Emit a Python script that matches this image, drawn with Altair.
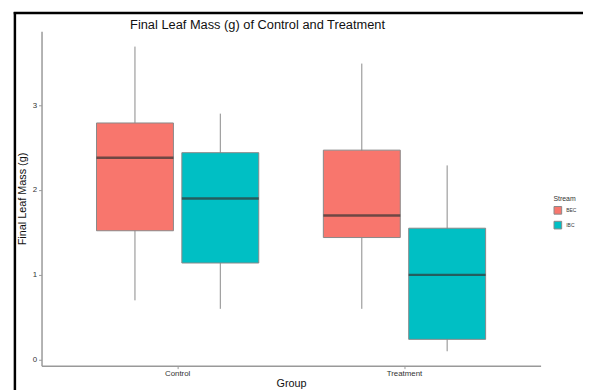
import altair as alt
import pandas as pd

groups = ["Control", "Control", "Treatment", "Treatment"]
streams = ["BEC", "IBC", "BEC", "IBC"]
lower = [0.70, 0.60, 0.60, 0.10]
q1 = [1.52, 1.14, 1.44, 0.24]
median = [2.38, 1.90, 1.70, 1.00]
q3 = [2.79, 2.44, 2.47, 1.55]
upper = [3.69, 2.90, 3.49, 2.29]

df = pd.DataFrame({"Group": groups, "Stream": streams, "lower": lower, "q1": q1,
                   "median": median, "q3": q3, "upper": upper})

xenc = alt.X("Group:N", title="Group",
             scale=alt.Scale(paddingInner=0, paddingOuter=0.1),
             axis=alt.Axis(labelAngle=0, labelFontSize=8, labelColor="#333",
                           titleFontSize=11, titleFontWeight="normal", titleColor="#111",
                           titlePadding=0, domainColor="#999", domainWidth=1.5,
                           tickColor="#999", tickSize=3, labelPadding=1))
xoff = alt.XOffset("Stream:N", scale=alt.Scale(paddingInner=0.098, paddingOuter=0.378))
yscale = alt.Scale(domain=[-0.07, 3.87], nice=False, zero=False)
yaxis = alt.Axis(values=[0, 1, 2, 3], format="d", labelFontSize=8, labelColor="#333", grid=False,
                 titleFontSize=11, titleFontWeight="normal", titleColor="#111",
                 domainColor="#999", domainWidth=1.5, tickColor="#999", tickSize=3,
                 labelPadding=2, titlePadding=5)
color = alt.Color("Stream:N", scale=alt.Scale(domain=["BEC", "IBC"], range=["#F8766D", "#00BFC4"]),
                  legend=alt.Legend(title="Stream", orient="none", legendX=519, legendY=166,
                                    titleFontSize=7, titleFontWeight="normal", titleColor="#333",
                                    labelFontSize=5, labelColor="#333", symbolType="square",
                                    symbolSize=60, symbolStrokeColor="#888", symbolStrokeWidth=1,
                                    rowPadding=2, titlePadding=4))

base = alt.Chart(df)
whisk = base.mark_rule(color="#888", strokeWidth=1).encode(
    x=xenc, xOffset=xoff,
    y=alt.Y("lower:Q", scale=yscale, axis=yaxis, title="Final Leaf Mass (g)"),
    y2="upper:Q")
box = base.mark_bar(stroke="#888", strokeWidth=1, size=78).encode(
    x=xenc, xOffset=xoff, y=alt.Y("q1:Q", scale=yscale), y2="q3:Q", color=color)
med = base.mark_tick(color="#333", thickness=2.5, size=78, orient="horizontal").encode(
    x=xenc, xOffset=xoff, y=alt.Y("median:Q", scale=yscale))

frame_df = pd.DataFrame({"a": [0]})
frame_left = alt.Chart(frame_df).mark_rule(color="black", strokeWidth=2.5).encode(
    x=alt.value(-27), y=alt.value(-19.5), y2=alt.value(400))
frame_top = alt.Chart(frame_df).mark_rule(color="black", strokeWidth=2.5).encode(
    x=alt.value(-28.2), x2=alt.value(600), y=alt.value(-18.5))

chart = alt.layer(whisk, box, med, frame_left, frame_top).properties(
    width=506, height=339,
    padding={"left": 34, "top": 21, "right": 43, "bottom": 22},
    autosize=alt.AutoSizeParams(type="none"),
    title=alt.TitleParams("Final Leaf Mass (g) of Control and Treatment", fontSize=13,
                          fontWeight="normal", color="#111", anchor="middle", dx=-34, offset=-21,
                          font="Liberation Sans"),
).configure(font="Liberation Sans").configure_view(stroke=None, strokeWidth=0)

chart.save("out.html", embed_options={"renderer": "svg", "actions": False})
